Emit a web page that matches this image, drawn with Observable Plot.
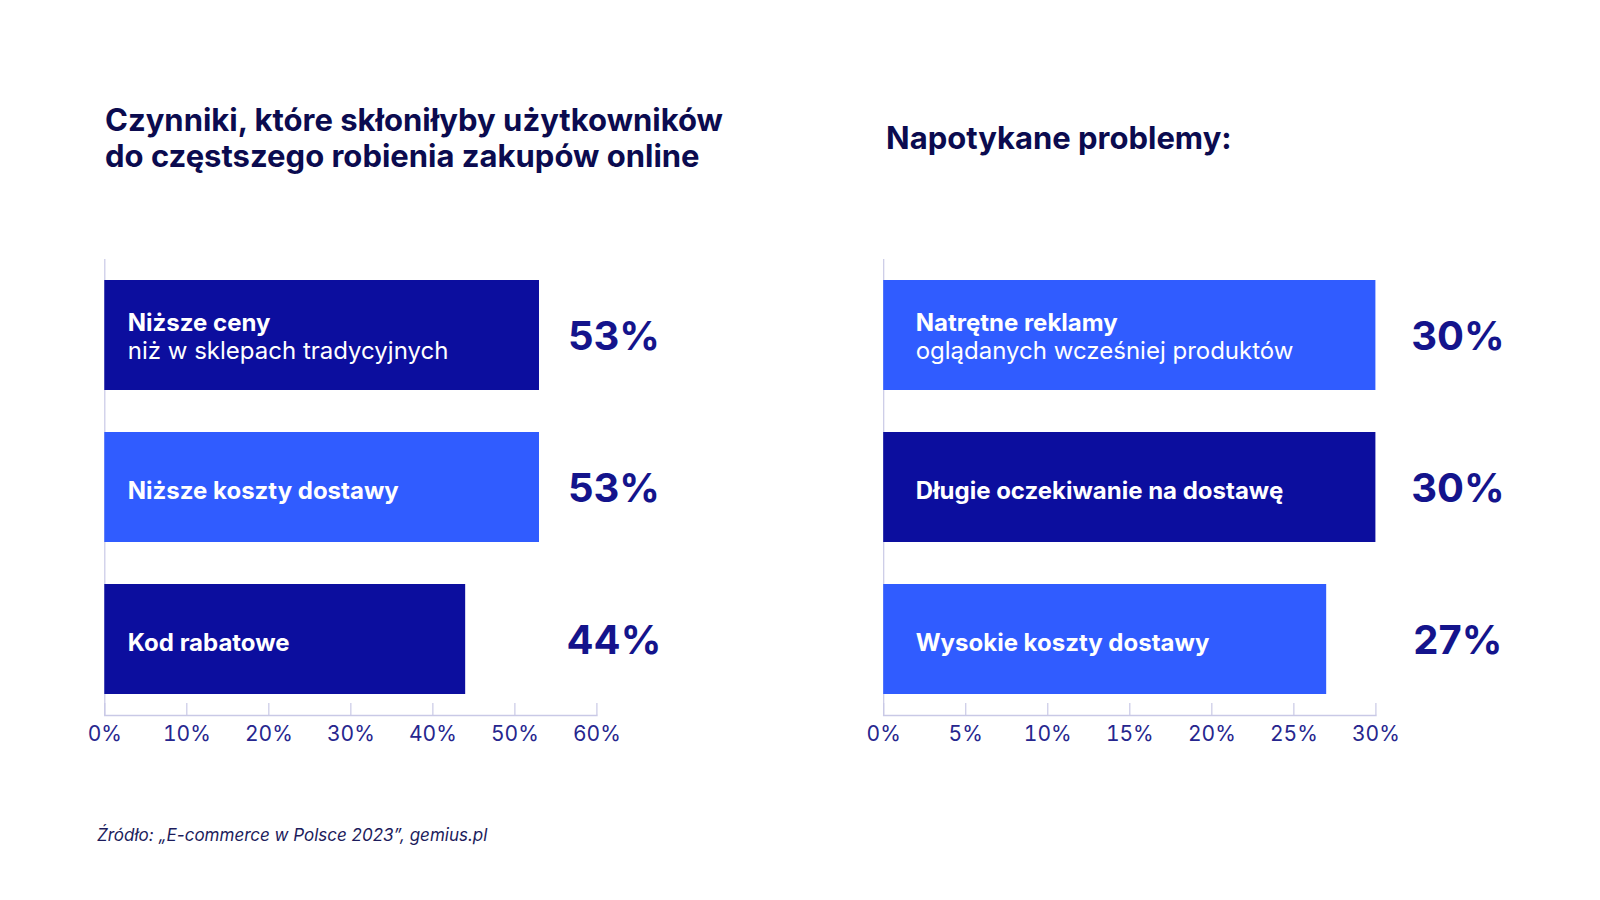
<!DOCTYPE html>
<html>
<head>
<meta charset="utf-8">
<script src="https://cdn.jsdelivr.net/npm/d3@7"></script>
<script src="https://cdn.jsdelivr.net/npm/@observablehq/plot@0.6"></script>
<style>
  body { margin: 0; background: #ffffff; }
  #root { position: relative; width: 1600px; height: 900px; font-family: Inter, "Open Sans", sans-serif; overflow: hidden; }
  .title { position: absolute; font-weight: 700; color: #0b0b4f; font-size: 31px; line-height: 36px; white-space: nowrap; }
  .caption { position: absolute; font-style: italic; color: #1c1c5c; font-size: 17px; line-height: 1; white-space: nowrap; }
  .chart { position: absolute; }
</style>
</head>
<body>
<div id="root">
  <div class="title" style="left:105px; top:102px;">Czynniki, które skłoniłyby użytkowników<br>do częstszego robienia zakupów online</div>
  <div class="title" style="left:886px; top:120px;">Napotykane problemy:</div>
  <div class="chart" id="left" style="left:0px; top:239px;"></div>
  <div class="chart" id="right" style="left:800px; top:239px;"></div>
  <div class="caption" style="left:97px; top:827px;">Źródło: „E-commerce w Polsce 2023”, gemius.pl</div>
</div>
<script>
// ---- data ----
const leftCategories = ["Niższe ceny", "Niższe koszty dostawy", "Kod rabatowe"];
const leftSublabels = ["niż w sklepach tradycyjnych", "", ""];
const leftValues = [53, 53, 44];
const leftTicks = [0, 10, 20, 30, 40, 50, 60];

const rightCategories = ["Natrętne reklamy", "Długie oczekiwanie na dostawę", "Wysokie koszty dostawy"];
const rightSublabels = ["oglądanych wcześniej produktów", "", ""];
const rightValues = [30, 30, 27];
const rightTicks = [0, 5, 10, 15, 20, 25, 30];

// ---- styles ----
const DARK = "#0c0e9e";
const LIGHT = "#305cff";
const AXIS = "#c9c9e6";
const TICKTEXT = "#26268e";
const VALUETEXT = "#14148c";
const FONT = "Inter, 'Open Sans', sans-serif";

function makeChart({cats, subs, vals, ticks, marginLeft, marginRight, labelDx, valueDx, darkFirst}) {
  const data = cats.map((c, i) => ({category: c, sub: subs[i], value: vals[i], idx: i}));
  const frameH = 456;
  const fillFor = d => ((d.idx % 2 === 0) === darkFirst ? DARK : LIGHT);
  return Plot.plot({
    width: 800,
    height: 20 + frameH + 60,
    marginTop: 20,
    marginBottom: 60,
    marginLeft,
    marginRight,
    style: {fontFamily: FONT, overflow: "visible", background: "transparent"},
    x: {domain: [0, ticks[ticks.length - 1]]},
    y: {domain: cats, paddingInner: 0.279, paddingOuter: 0.134, axis: null},
    marks: [
      Plot.ruleX(ticks, {x: d => d, stroke: AXIS, strokeWidth: 1.2, insetTop: frameH - 12}),
      Plot.ruleX([0], {stroke: AXIS, strokeWidth: 1.2}),
      Plot.frame({anchor: "bottom", stroke: AXIS, strokeWidth: 1.5}),
      Plot.barX(data, {x: "value", y: "category", fill: fillFor}),
      Plot.axisX({ticks, tickFormat: d => d + "%", tickSize: 0, tickPadding: 11, fontSize: 21, fill: TICKTEXT, color: TICKTEXT, label: null}),
      Plot.text(data.filter(d => !d.sub), {y: "category", text: "category", frameAnchor: "left", dx: labelDx, dy: 4, textAnchor: "start", fill: "#ffffff", fontSize: 24, fontWeight: 700, letterSpacing: 0.3}),
      Plot.text(data.filter(d => d.sub), {y: "category", text: "category", frameAnchor: "left", dx: labelDx, dy: -12, textAnchor: "start", fill: "#ffffff", fontSize: 24, fontWeight: 700, letterSpacing: 0.3}),
      Plot.text(data.filter(d => d.sub), {y: "category", text: "sub", frameAnchor: "left", dx: labelDx, dy: 16, textAnchor: "start", fill: "#ffffff", fontSize: 24, fontWeight: 400}),
      Plot.text(data, {y: "category", text: d => d.value + "%", frameAnchor: "right", dx: valueDx, dy: 2, textAnchor: "middle", fill: VALUETEXT, fontSize: 40, fontWeight: 700, letterSpacing: -1.5})
    ]
  });
}

document.getElementById("left").appendChild(makeChart({
  cats: leftCategories, subs: leftSublabels, vals: leftValues, ticks: leftTicks,
  marginLeft: 104.3, marginRight: 203.6, labelDx: 23, valueDx: 17, darkFirst: true
}));
document.getElementById("right").appendChild(makeChart({
  cats: rightCategories, subs: rightSublabels, vals: rightValues, ticks: rightTicks,
  marginLeft: 83.2, marginRight: 224.6, labelDx: 32, valueDx: 82, darkFirst: false
}));
</script>
</body>
</html>
